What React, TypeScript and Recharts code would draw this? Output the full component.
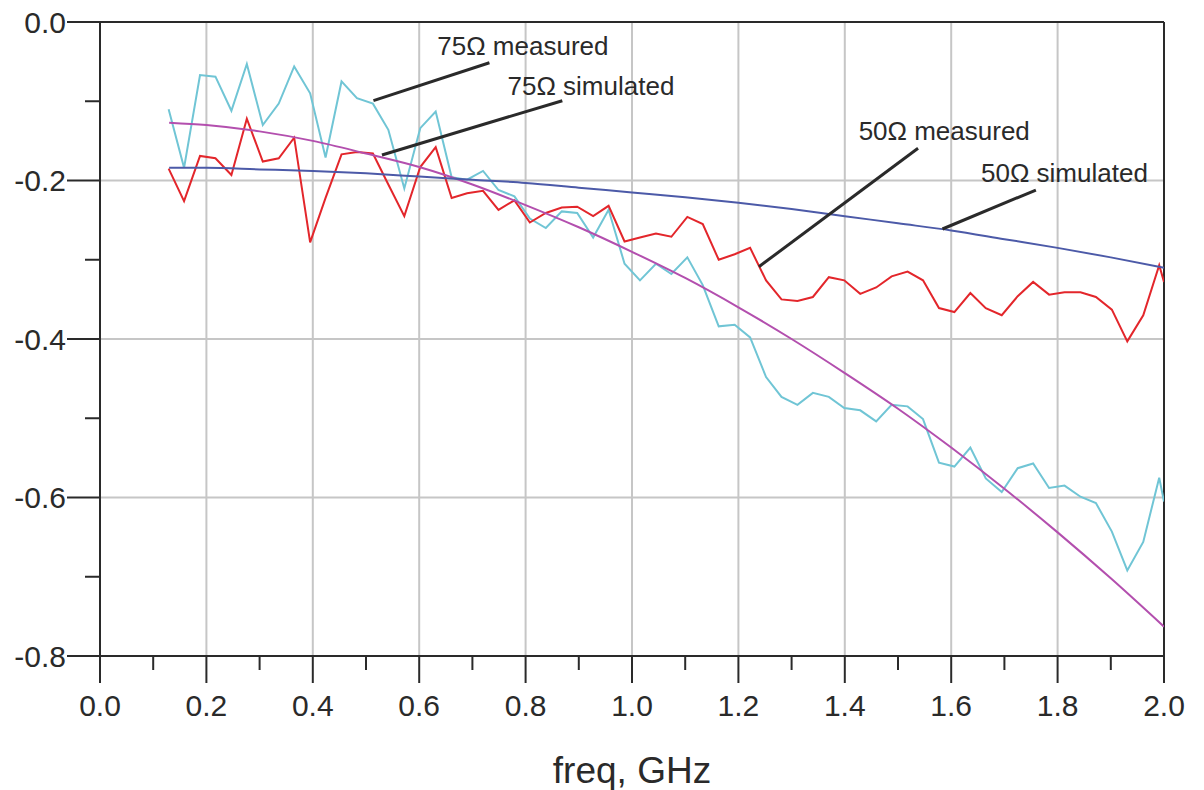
import React from "react";
import { LineChart, Line, XAxis, YAxis, ReferenceLine, ReferenceDot } from "recharts";

const FONT = "'Liberation Sans', Arial, sans-serif";
const INK = "#2a2a2a";

// measured sweep (GHz)
const MEAS_FREQ = [
  0.129, 0.158, 0.188, 0.217, 0.247, 0.276, 0.306, 0.336, 0.365, 0.395,
  0.424, 0.454, 0.483, 0.513, 0.542, 0.572, 0.602, 0.631, 0.661, 0.69,
  0.72, 0.749, 0.779, 0.808, 0.838, 0.868, 0.897, 0.927, 0.956, 0.986,
  1.015, 1.045, 1.074, 1.104, 1.133, 1.163, 1.193, 1.222, 1.252, 1.281,
  1.311, 1.34, 1.37, 1.399, 1.429, 1.459, 1.488, 1.518, 1.547, 1.577,
  1.606, 1.636, 1.665, 1.695, 1.725, 1.754, 1.784, 1.813, 1.843, 1.872,
  1.902, 1.931, 1.961, 1.991, 2.0,
];

const MEAS_50 = [
  -0.185, -0.226, -0.169, -0.172, -0.193, -0.122, -0.176, -0.172, -0.146, -0.278,
  -0.222, -0.167, -0.164, -0.166, -0.205, -0.245, -0.183, -0.158, -0.222, -0.216,
  -0.213, -0.237, -0.225, -0.253, -0.241, -0.234, -0.233, -0.245, -0.232, -0.277,
  -0.272, -0.267, -0.271, -0.246, -0.255, -0.3, -0.293, -0.285, -0.326, -0.35,
  -0.352, -0.347, -0.322, -0.326, -0.343, -0.335, -0.321, -0.315, -0.326, -0.361,
  -0.366, -0.342, -0.361, -0.37, -0.346, -0.328, -0.344, -0.341, -0.341, -0.347,
  -0.363, -0.403, -0.37, -0.307, -0.328,
];

const MEAS_75 = [
  -0.11, -0.184, -0.067, -0.069, -0.112, -0.053, -0.13, -0.103, -0.056, -0.09,
  -0.171, -0.075, -0.096, -0.103, -0.136, -0.21, -0.134, -0.113, -0.196, -0.199,
  -0.188, -0.212, -0.22, -0.248, -0.26, -0.239, -0.241, -0.272, -0.237, -0.305,
  -0.326, -0.305, -0.318, -0.297, -0.332, -0.384, -0.382, -0.398, -0.448, -0.473,
  -0.483, -0.468, -0.473, -0.487, -0.49, -0.504, -0.483, -0.485, -0.501, -0.556,
  -0.561, -0.537, -0.576, -0.593, -0.563, -0.557, -0.588, -0.585, -0.599, -0.607,
  -0.643, -0.692, -0.656, -0.575, -0.605,
];

// simulation grid (GHz)
const SIM_FREQ = [
  0.13, 0.2, 0.3, 0.4, 0.5, 0.6, 0.7, 0.8, 0.9, 1.0,
  1.1, 1.2, 1.3, 1.4, 1.5, 1.6, 1.7, 1.8, 1.9, 2.0,
];
const SIM_50 = [
  -0.184, -0.184, -0.186, -0.188, -0.191, -0.195, -0.199, -0.203, -0.209, -0.215,
  -0.221, -0.228, -0.236, -0.245, -0.254, -0.263, -0.274, -0.285, -0.297, -0.31,
];
const SIM_75 = [
  -0.127, -0.13, -0.138, -0.15, -0.166, -0.183, -0.205, -0.231, -0.259, -0.29,
  -0.323, -0.36, -0.4, -0.443, -0.488, -0.537, -0.589, -0.644, -0.702, -0.763,
];

const X_TICKS = [0, 0.1, 0.2, 0.3, 0.4, 0.5, 0.6, 0.7, 0.8, 0.9, 1.0, 1.1, 1.2, 1.3, 1.4, 1.5, 1.6, 1.7, 1.8, 1.9, 2.0];
const Y_TICKS = [0, -0.1, -0.2, -0.3, -0.4, -0.5, -0.6, -0.7, -0.8];
const X_GRID = [0.2, 0.4, 0.6, 0.8, 1.0, 1.2, 1.4, 1.6, 1.8];
const Y_GRID = [-0.2, -0.4, -0.6];

// annotation text anchors and leader lines, in data units
const NOTES = [
  { text: "75\u03A9 measured", f: 0.634, v: -0.0416, from: [0.514, -0.0993], to: [0.732, -0.0514] },
  { text: "75\u03A9 simulated", f: 0.766, v: -0.0921, from: [0.53, -0.1678], to: [0.869, -0.0993] },
  { text: "50\u03A9 measured", f: 1.426, v: -0.1489, from: [1.2386, -0.3088], to: [1.5377, -0.1594] },
  { text: "50\u03A9 simulated", f: 1.656, v: -0.2019, from: [1.5836, -0.2612], to: [1.7592, -0.212] },
];

const measData = MEAS_FREQ.map((f, i) => ({ f, m50: MEAS_50[i], m75: MEAS_75[i] }));
const simData = SIM_FREQ.map((f, i) => ({ f, s50: SIM_50[i], s75: SIM_75[i] }));

const isMajor = (v: number) => Math.abs(Math.round(v * 10) % 2) === 0;

function XTick(props: any) {
  const { x, y, payload } = props;
  const major = isMajor(payload.value);
  return (
    <g>
      <line x1={x} x2={x} y1={y} y2={y + (major ? 27 : 14)} stroke={INK} strokeWidth={2} />
      {major && (
        <text x={x} y={y + 60} textAnchor="middle" fontSize={30} fontFamily={FONT} fill={INK}>
          {payload.value.toFixed(1)}
        </text>
      )}
    </g>
  );
}

function YTick(props: any) {
  const { x, y, payload } = props;
  const major = isMajor(payload.value);
  const label = payload.value === 0 ? "0.0" : payload.value.toFixed(1);
  return (
    <g>
      <line x1={x - (major ? 33 : 15)} x2={x} y1={y} y2={y} stroke={INK} strokeWidth={2} />
      {major && (
        <text x={x - 34} y={y} dy="0.36em" textAnchor="end" fontSize={30} fontFamily={FONT} fill={INK}>
          {label}
        </text>
      )}
    </g>
  );
}

export default function App() {
  return (
    <div style={{ position: "absolute", left: 0, top: 0, background: "#fff" }}>
      <LineChart width={1204} height={790} margin={{ top: 22, right: 40, left: 0, bottom: 0 }}>
        <XAxis
          type="number"
          dataKey="f"
          domain={[0, 2]}
          ticks={X_TICKS}
          interval={0}
          tick={<XTick />}
          tickLine={false}
          tickSize={0}
          tickMargin={0}
          height={134}
          axisLine={{ stroke: INK, strokeWidth: 2 }}
          allowDataOverflow
          label={{ value: "freq, GHz", position: "insideBottom", offset: 7, fontSize: 37, fontFamily: FONT, fill: INK }}
        />
        <YAxis
          type="number"
          domain={[-0.8, 0]}
          ticks={Y_TICKS}
          interval={0}
          tick={<YTick />}
          tickLine={false}
          tickSize={0}
          tickMargin={0}
          width={100}
          axisLine={{ stroke: INK, strokeWidth: 2 }}
          allowDataOverflow
        />
        {X_GRID.map((g) => (
          <ReferenceLine key={"gx" + g} x={g} stroke="#c6c6c6" strokeWidth={2} />
        ))}
        {Y_GRID.map((g) => (
          <ReferenceLine key={"gy" + g} y={g} stroke="#c6c6c6" strokeWidth={2} />
        ))}
        <ReferenceLine y={0} stroke={INK} strokeWidth={2} />
        <ReferenceLine x={2} stroke={INK} strokeWidth={2} />

        <Line data={measData} dataKey="m75" type="linear" stroke="#70c5d5" strokeWidth={2} dot={false} isAnimationActive={false} />
        <Line data={measData} dataKey="m50" type="linear" stroke="#e3262b" strokeWidth={2} dot={false} isAnimationActive={false} />
        <Line data={simData} dataKey="s75" type="monotone" stroke="#b34fae" strokeWidth={2} dot={false} isAnimationActive={false} />
        <Line data={simData} dataKey="s50" type="monotone" stroke="#4c5aa8" strokeWidth={2} dot={false} isAnimationActive={false} />

        {NOTES.map((n) => (
          <ReferenceLine
            key={"l" + n.text}
            segment={[{ x: n.from[0], y: n.from[1] }, { x: n.to[0], y: n.to[1] }]}
            stroke={INK}
            strokeWidth={3}
            ifOverflow="visible"
          />
        ))}
        {NOTES.map((n) => (
          <ReferenceDot
            key={"t" + n.text}
            x={n.f}
            y={n.v}
            r={0}
            ifOverflow="visible"
            shape={(p: any) => (
              <text x={p.cx} y={p.cy} fontSize={26} fontFamily={FONT} fill={INK}>
                {n.text}
              </text>
            )}
          />
        ))}
      </LineChart>
    </div>
  );
}
